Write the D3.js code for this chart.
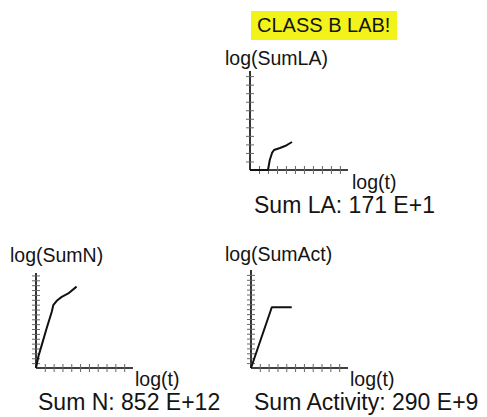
<!DOCTYPE html>
<html><head><meta charset="utf-8">
<script src="https://cdn.jsdelivr.net/npm/d3@7"></script>
<style>
html,body{margin:0;padding:0;background:#fff;}
text{font-family:"Liberation Sans",Arial,sans-serif;fill:#141414;}
</style></head>
<body>
<svg id="c" width="487" height="417"></svg>
<script>
// ---- data ----
const title = "CLASS B LAB!";
const xLabel = "log(t)";
const panelNames = ["LA", "N", "Act"];
const yLabels = ["log(SumLA)", "log(SumN)", "log(SumAct)"];
const sumLabels = ["Sum LA: 171 E+1", "Sum N: 852 E+12", "Sum Activity: 290 E+9"];
const laT  = [0, 2, 2.2, 2.45, 2.67, 3.33, 3.9, 4.67];
const laY  = [0, 0, 1.17, 2.0, 2.34, 2.58, 2.81, 3.28];
const nT   = [0, 0.26, 0.65, 1.2, 1.78, 1.96, 2.35, 2.92, 3.66, 4.6];
const nY   = [0, 2.3, 4.7, 8.1, 11.5, 12.9, 13.8, 14.6, 15.3, 16.7];
const actT = [0, 2.36, 4.62];
const actY = [0, 12.4, 12.4];
const xTickValues = [1,2,3,4,5,6,7,8,9,10];
const yTickValuesLA = [1,2,3,4,5,6,7,8,9,10,11];
const yTickValuesBig = [1,2,3,4,5,6,7,8,9,10,11,12,13,14,15,16,17,18,19];

// ---- layout ----
const panels = [
  {t: laT, y: laY, yTicks: yTickValuesLA, xd:[0,10.9], xr:[250,348], yd:[0,11.6], yr:[170,71],
   yl:[225,65], xl:[352,189], sl:[254,213]},
  {t: nT, y: nY, yTicks: yTickValuesBig, xd:[0,11], xr:[36,133], yd:[0,19.5], yr:[368,273],
   yl:[10,262], xl:[135,386], sl:[38,410]},
  {t: actT, y: actY, yTicks: yTickValuesBig, xd:[0,11], xr:[251,348], yd:[0,20], yr:[368,270],
   yl:[225,261], xl:[350,386], sl:[254,410]}
];

const svg = d3.select("#c");

// title box
const tg = svg.append("g");
tg.append("rect").attr("x",251).attr("y",11).attr("width",146).attr("height",29).attr("fill","#f3f31c");
tg.append("text").attr("x",257).attr("y",32).attr("font-size","20px").text(title);

panels.forEach((p,i) => {
  const x = d3.scaleLinear().domain(p.xd).range(p.xr);
  const y = d3.scaleLinear().domain(p.yd).range(p.yr);
  const g = svg.append("g");

  const xa = g.append("g").attr("transform",`translate(0,${y(0)})`)
    .call(d3.axisBottom(x).tickValues(xTickValues).tickSize(4).tickFormat(""));
  const ya = g.append("g").attr("transform",`translate(${x(0)},0)`)
    .call(d3.axisLeft(y).tickValues(p.yTicks).tickSize(4).tickFormat(""));
  [xa, ya].forEach(a => {
    a.select(".domain").attr("stroke","#000").attr("stroke-width",1.6);
    a.selectAll(".tick line").attr("stroke","#666").attr("stroke-width",1);
  });
  xa.selectAll(".tick line").attr("y1",-4).attr("y2",4);
  ya.selectAll(".tick line").attr("x1",-4).attr("x2",4);
  // replace domain paths with plain lines (no outer ticks)
  xa.select(".domain").attr("d",`M${p.xr[0]},0H${p.xr[1]}`);
  ya.select(".domain").attr("d",`M0,${p.yr[0]}V${p.yr[1]}`);

  const pts = p.t.map((v,k)=>[v,p.y[k]]);
  g.append("path").datum(pts)
    .attr("fill","none").attr("stroke","#111").attr("stroke-width",2)
    .attr("stroke-linejoin","round")
    .attr("d", d3.line().x(d=>x(d[0])).y(d=>y(d[1])));

  g.append("text").attr("x",p.yl[0]).attr("y",p.yl[1]).attr("font-size","19.5px").text(yLabels[i]);
  g.append("text").attr("x",p.xl[0]).attr("y",p.xl[1]).attr("font-size","19.5px").text(xLabel);
  g.append("text").attr("x",p.sl[0]).attr("y",p.sl[1]).attr("font-size","23px").text(sumLabels[i]);
});
</script>
</body></html>
